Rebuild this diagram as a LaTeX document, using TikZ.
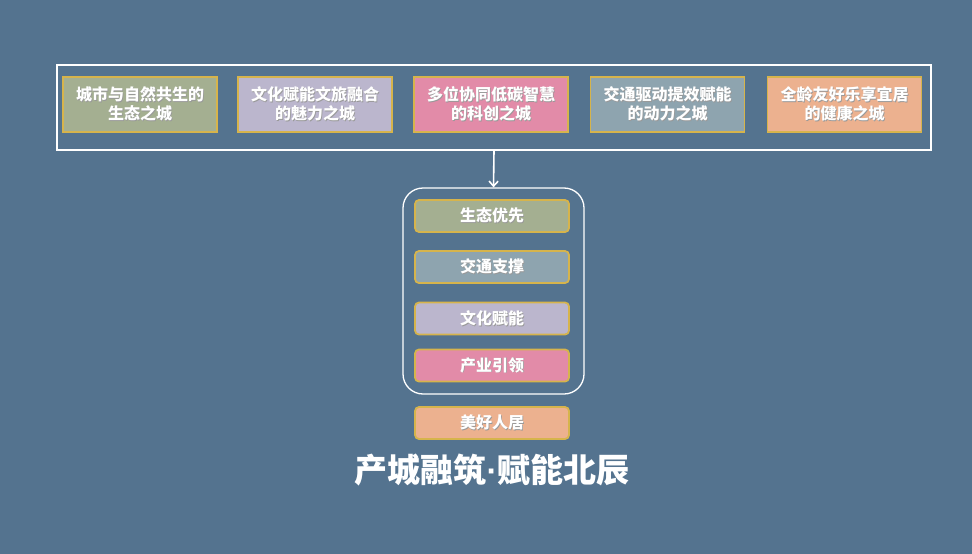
\documentclass[tikz,border=0pt]{standalone}
\usepackage{fontspec}
\setmainfont{Noto Sans CJK SC}
\newfontfamily\latinfont{Liberation Sans}
\usetikzlibrary{arrows.meta}
\definecolor{bgblue}{RGB}{84,115,143}
\definecolor{goldline}{RGB}{214,180,76}
\definecolor{sage}{RGB}{164,175,145}
\definecolor{lilac}{RGB}{187,182,205}
\definecolor{rose}{RGB}{226,139,168}
\definecolor{slate}{RGB}{142,164,175}
\definecolor{peach}{RGB}{236,177,143}
\newcommand\shadowed[1]{\leavevmode\rlap{\kern0.9pt\raisebox{-0.9pt}{\color{black!40}#1}}#1}
\tikzset{
  citybox/.style={draw=goldline, line width=1.8pt, text=white, minimum width=154pt,
    minimum height=55pt, align=center, font=\fontsize{16}{19}\selectfont\bfseries},
  pillar/.style={draw=goldline, line width=1.8pt, text=white, minimum width=154pt,
    minimum height=32pt, rounded corners=4pt, font=\fontsize{16}{19}\selectfont\bfseries}
}
\begin{document}
\begin{tikzpicture}[x=1pt, y=-1pt]
			%%%%% START %%%%%
			
			\fill[bgblue] (0, 0) rectangle (972, 554);
			
			\node[draw=white, line width=1.3pt, minimum width=874pt, minimum height=85pt] (frame) at (494, 107.5) {};
			
			\node[citybox, fill=sage] (eco) at (140, 104.5) {\shadowed{城市与自然共生的}\\\shadowed{生态之城}};
			\node[citybox, fill=lilac] (culture) at (315, 104.5) {\shadowed{文化赋能文旅融合}\\\shadowed{的魅力之城}};
			\node[citybox, fill=rose] (tech) at (491, 104.5) {\shadowed{多位协同低碳智慧}\\\shadowed{的科创之城}};
			\node[citybox, fill=slate] (traffic) at (667.5, 104.5) {\shadowed{交通驱动提效赋能}\\\shadowed{的动力之城}};
			\node[citybox, fill=peach] (health) at (844.5, 104.5) {\shadowed{全龄友好乐享宜居}\\\shadowed{的健康之城}};
			
			\node[draw=white, line width=1.3pt, rounded corners=20pt, minimum width=181pt, minimum height=206pt] (hub) at (493.5, 291) {};
			\draw[white, line width=1.6pt, -{Straight Barb[length=5pt, width=9pt]}] (frame.south) -- (hub.north);
			
			\node[pillar, fill=sage] (green) at (492, 216) {\shadowed{生态优先}};
			\node[pillar, fill=slate] (transit) at (492, 267) {\shadowed{交通支撑}};
			\node[pillar, fill=lilac] (arts) at (492, 318.5) {\shadowed{文化赋能}};
			\node[pillar, fill=rose] (industry) at (492, 365.5) {\shadowed{产业引领}};
			\node[pillar, fill=peach] (living) at (492, 423) {\shadowed{美好人居}};
			
			\node[text=white, font=\fontsize{33}{38}\selectfont\bfseries] (title) at (492, 470) {产城融筑{\latinfont\bfseries ·}赋能北辰};
			
			%%%%% END %%%%%
\end{tikzpicture}
\end{document}
